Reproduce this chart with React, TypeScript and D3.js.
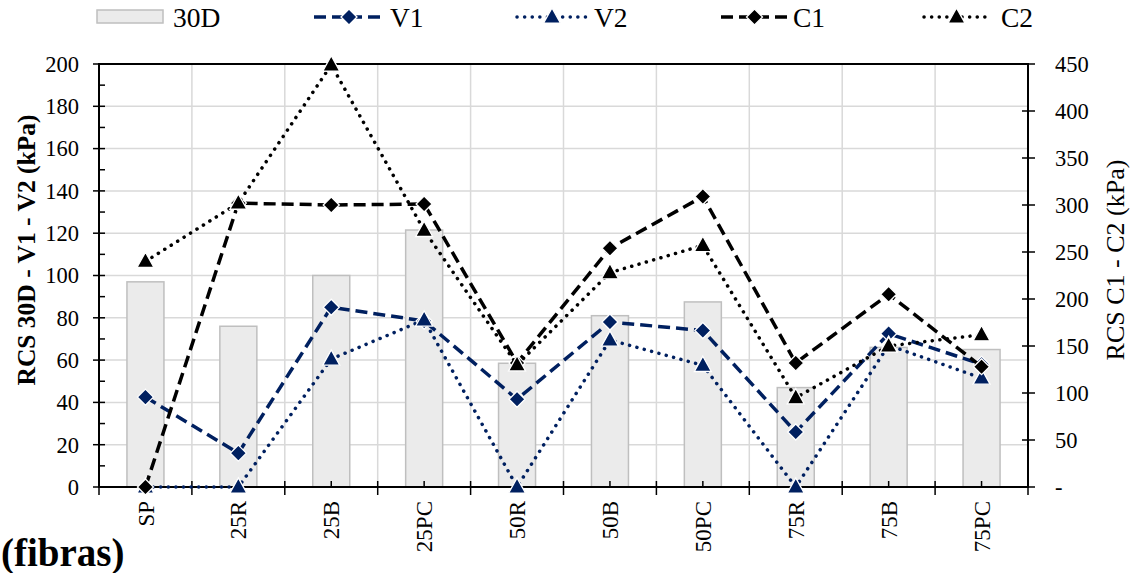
import React from "react";
import * as d3 from "d3";

const categories = ["SP", "25R", "25B", "25PC", "50R", "50B", "50PC", "75R", "75B", "75PC"];
const s30D = [97, 76, 100, 121.5, 58.5, 81, 87.5, 47, 66, 65];
const sV1 = [42.5, 16, 85, 78.5, 41.5, 78, 74, 26, 72.5, 58];
const sV2 = [0, 0, 60.5, 79, 0, 69.5, 57.5, 0, 67, 51.5];
const sC1 = [0, 302, 300, 301, 132, 254, 309, 132, 205, 128];
const sC2 = [240, 302, 449, 273, 130, 228, 257, 95, 150, 162];
const leftTicks = [0, 20, 40, 60, 80, 100, 120, 140, 160, 180, 200];
const rightTicks = [0, 50, 100, 150, 200, 250, 300, 350, 400, 450];

const NAVY = "#002060";
const FONT = "'Liberation Serif', 'Times New Roman', serif";

const L = 99, R = 1028, T = 64, B = 487;

function diamond(cx: number, cy: number, r: number) {
  return `M${cx},${cy - r}L${cx + r},${cy}L${cx},${cy + r}L${cx - r},${cy}Z`;
}
function triangle(cx: number, cy: number, s: number) {
  const h = s * 0.9;
  return `M${cx},${cy - h * 0.6}L${cx + s / 2},${cy + h * 0.4}L${cx - s / 2},${cy + h * 0.4}Z`;
}

export default function App() {
  const x = d3.scaleBand<string>().domain(categories).range([L, R]);
  const bw = x.bandwidth();
  const cx = (c: string) => (x(c) as number) + bw / 2;
  const yL = d3.scaleLinear().domain([0, 200]).range([B, T]);
  const yR = d3.scaleLinear().domain([0, 450]).range([B, T]);
  const minorL = d3.range(10, 200, 20);

  const series = [
    { name: "V1", data: sV1, scale: yL, color: NAVY, dash: "12 6", cap: "butt", marker: "d" },
    { name: "V2", data: sV2, scale: yL, color: NAVY, dash: "0.1 7.5", cap: "round", marker: "t" },
    { name: "C1", data: sC1, scale: yR, color: "#000", dash: "12 6", cap: "butt", marker: "d" },
    { name: "C2", data: sC2, scale: yR, color: "#000", dash: "0.1 7.5", cap: "round", marker: "t" },
  ];

  const legendLines = [
    { name: "V1", x1: 314, x2: 384, tx: 390, s: series[0] },
    { name: "V2", x1: 517, x2: 587, tx: 594, s: series[1] },
    { name: "C1", x1: 721, x2: 788, tx: 793, s: series[2] },
    { name: "C2", x1: 924, x2: 989, tx: 1001, s: series[3] },
  ];

  const mark = (m: string, px: number, py: number, color: string, key: any) =>
    m === "d" ? (
      <path key={key} d={diamond(px, py, 8)} fill={color} stroke="#fff" strokeWidth={1.3} />
    ) : (
      <path key={key} d={triangle(px, py, 17)} fill={color} stroke="#fff" strokeWidth={1.3} />
    );

  return (
    <svg width={1135} height={573} style={{ position: "absolute", left: 0, top: 0, background: "#fff" }} fontFamily={FONT}>
      {/* gridlines */}
      {leftTicks.map((t) => (
        <line key={"gh" + t} x1={L} x2={R} y1={yL(t)} y2={yL(t)} stroke="#d9d9d9" strokeWidth={1.5} />
      ))}
      {categories.map((c) => (
        <line key={"gv" + c} x1={x(c) as number} x2={x(c) as number} y1={T} y2={B} stroke="#d9d9d9" strokeWidth={1.5} />
      ))}
      {/* bars */}
      {categories.map((c, i) => (
        <rect key={"b" + c} x={cx(c) - 18.5} y={yL(s30D[i])} width={37} height={B - yL(s30D[i])} fill="#ebebeb" stroke="#bfbfbf" strokeWidth={1.5} />
      ))}
      {/* axes */}
      <line x1={L} x2={R} y1={T} y2={T} stroke="#000" strokeWidth={2} />
      <line x1={L} x2={L} y1={T - 1} y2={B + 1} stroke="#000" strokeWidth={2} />
      <line x1={R} x2={R} y1={T - 1} y2={B + 1} stroke="#000" strokeWidth={2} />
      <line x1={L} x2={R} y1={B} y2={B} stroke="#000" strokeWidth={2} />
      {leftTicks.map((t) => (
        <g key={"lt" + t}>
          <line x1={L - 6} x2={L + 6} y1={yL(t)} y2={yL(t)} stroke="#000" strokeWidth={1.5} />
          <text x={79} y={yL(t)} dy="0.35em" textAnchor="end" fontSize={22.5}>{t}</text>
        </g>
      ))}
      {minorL.map((t) => (
        <line key={"lm" + t} x1={L} x2={L + 6} y1={yL(t)} y2={yL(t)} stroke="#000" strokeWidth={1.5} />
      ))}
      {rightTicks.map((t) => (
        <g key={"rt" + t}>
          <line x1={R - 6} x2={R + 7} y1={yR(t)} y2={yR(t)} stroke="#000" strokeWidth={1.5} />
          <text x={1055} y={yR(t)} dy="0.35em" textAnchor="start" fontSize={22.5}>{t === 0 ? "-" : t}</text>
        </g>
      ))}
      {categories.map((c) => (
        <line key={"xt" + c} x1={x(c) as number} x2={x(c) as number} y1={B - 6} y2={B + 8} stroke="#000" strokeWidth={1.5} />
      ))}
      <line x1={R} x2={R} y1={B - 6} y2={B + 8} stroke="#000" strokeWidth={1.5} />
      {categories.map((c) => (
        <line key={"xm" + c} x1={cx(c)} x2={cx(c)} y1={B - 6} y2={B} stroke="#000" strokeWidth={1.5} />
      ))}
      {categories.map((c) => (
        <text key={"xl" + c} transform={`translate(${cx(c)},501) rotate(-90)`} textAnchor="end" dy="0.35em" fontSize={23}>{c}</text>
      ))}
      {/* series */}
      {series.map((s) => {
        const line = d3.line<number>().x((_, i) => cx(categories[i])).y((d) => s.scale(d));
        return (
          <g key={s.name}>
            <path d={line(s.data) as string} fill="none" stroke={s.color} strokeWidth={3.5} strokeDasharray={s.dash} strokeLinecap={s.cap as any} />
            {s.data.map((d, i) => mark(s.marker, cx(categories[i]), s.scale(d), s.color, i))}
          </g>
        );
      })}
      {/* titles */}
      <text transform="translate(26,250) rotate(-90)" textAnchor="middle" dy="0.35em" fontSize={25.5} fontWeight="bold">RCS 30D - V1 - V2  (kPa)</text>
      <text transform="translate(1115,260) rotate(-90)" textAnchor="middle" dy="0.35em" fontSize={26}>RCS C1 - C2 (kPa)</text>
      <text x={1} y={566} fontSize={39} fontWeight="bold">(fibras)</text>
      {/* legend */}
      <rect x={97} y={10} width={66} height={13} fill="#ebebeb" stroke="#bfbfbf" strokeWidth={1.5} />
      <text x={173} y={17} dy="0.35em" fontSize={27.5}>30D</text>
      {legendLines.map((l) => (
        <g key={"lg" + l.name}>
          <line x1={l.x1} x2={l.x2} y1={17} y2={17} stroke={l.s.color} strokeWidth={3.5} strokeDasharray={l.s.dash} strokeLinecap={l.s.cap as any} />
          {mark(l.s.marker, (l.x1 + l.x2) / 2, 17, l.s.color, "m")}
          <text x={l.tx} y={17} dy="0.35em" fontSize={27.5}>{l.name}</text>
        </g>
      ))}
    </svg>
  );
}
